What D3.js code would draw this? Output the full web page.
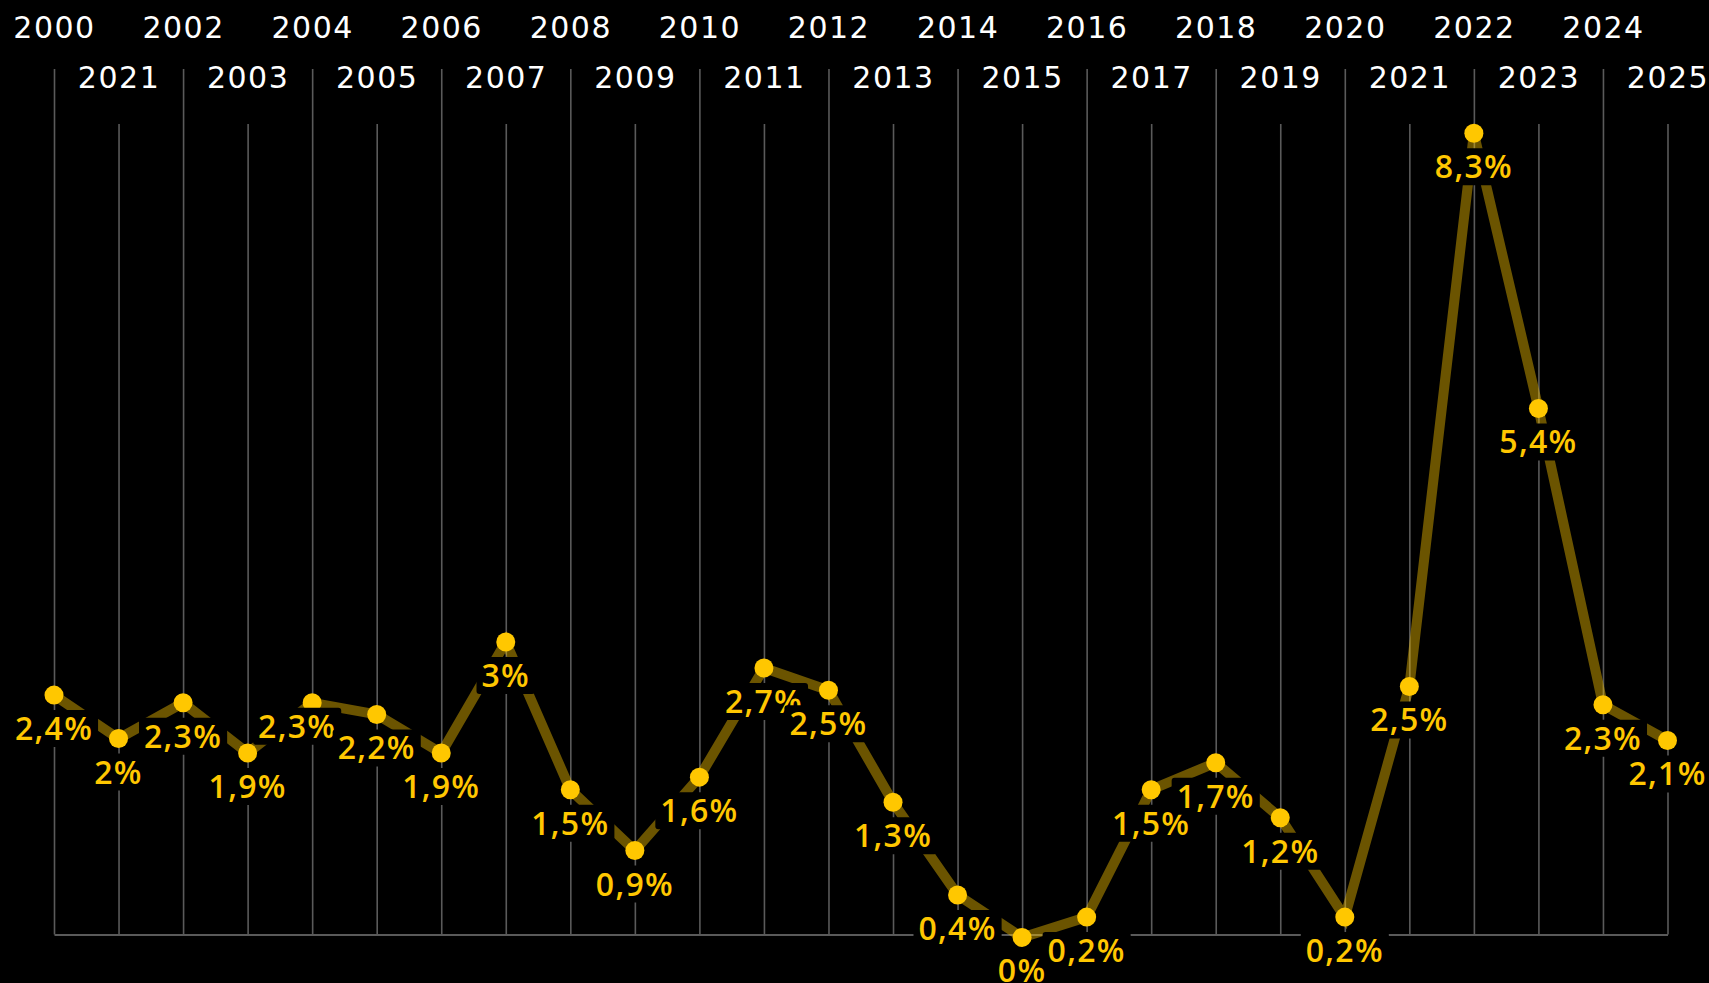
<!DOCTYPE html>
<html><head><meta charset="utf-8">
<script src="https://cdn.jsdelivr.net/npm/d3@7"></script>
<style>html,body{margin:0;padding:0;background:#000;overflow:hidden}</style>
</head><body><svg id="chart" width="1709" height="983"></svg>
<script>
const years = [2000,2001,2002,2003,2004,2005,2006,2007,2008,2009,2010,2011,2012,2013,2014,2015,2016,2017,2018,2019,2020,2021,2022,2023,2024,2025];
const tickLabels = ["2000","2021","2002","2003","2004","2005","2006","2007","2008","2009","2010","2011","2012","2013","2014","2015","2016","2017","2018","2019","2020","2021","2022","2023","2024","2025"];
const values = [2.48,2.03,2.40,1.88,2.40,2.28,1.88,3.03,1.50,0.87,1.63,2.76,2.53,1.37,0.41,-0.03,0.18,1.50,1.78,1.21,0.18,2.57,8.30,5.45,2.38,2.01];
const valueLabels = ["2,4%","2%","2,3%","1,9%","2,3%","2,2%","1,9%","3%","1,5%","0,9%","1,6%","2,7%","2,5%","1,3%","0,4%","0%","0,2%","1,5%","1,7%","1,2%","0,2%","2,5%","8,3%","5,4%","2,3%","2,1%"];

const W = 1709, H = 983;
const svg = d3.select("#chart");
svg.append("rect").attr("width", W).attr("height", H).attr("fill", "#000");

const baseY = 934.5;
const x = d3.scaleLinear().domain([d3.min(years), d3.max(years)]).range([54, 1667.5]);
const y = d3.scaleLinear().domain([0, d3.max(values)]).range([baseY, 133.3]);

const GRID = "#5a5a5a";
const YEL = "#FFC700";

const evenYears = years.filter((d, i) => i % 2 === 0);
const oddYears = years.filter((d, i) => i % 2 === 1);
const labOf = d => tickLabels[years.indexOf(d)];

function drawAxis(ticks, topY, labelBase) {
  const size = baseY - topY;
  const axis = d3.axisTop(x).tickValues(ticks).tickFormat(labOf)
    .tickSize(size).tickSizeOuter(0).tickPadding(baseY - labelBase - size);
  const g = svg.append("g").attr("transform", `translate(0,${baseY})`).call(axis);
  g.select(".domain").remove();
  g.selectAll(".tick line").attr("stroke", GRID).attr("stroke-width", 1.6);
  g.selectAll(".tick text").attr("fill", "#fff")
    .style("font-family", "'DejaVu Sans', sans-serif")
    .style("font-size", "30px").style("letter-spacing", "1.5px");
}
drawAxis(evenYears, 69, 38);
drawAxis(oddYears, 124, 88);

svg.append("g").attr("transform", `translate(0,${baseY})`)
  .call(d3.axisBottom(x).tickValues([]).tickSizeOuter(0))
  .call(g => g.select(".domain").attr("stroke", GRID).attr("stroke-width", 2.2));

const data = years.map((yr, i) => ({ yr, v: values[i], lab: valueLabels[i] }));

svg.append("path").datum(data)
  .attr("fill", "none").attr("stroke", YEL).attr("stroke-opacity", 0.42)
  .attr("stroke-width", 10).attr("stroke-linejoin", "miter")
  .attr("d", d3.line().x(d => x(d.yr)).y(d => y(d.v)));

svg.append("g").selectAll("circle").data(data).join("circle")
  .attr("cx", d => x(d.yr)).attr("cy", d => y(d.v)).attr("r", 9.5).attr("fill", YEL);

const nudge = { 2004: [-15, -10] };
const lg = svg.append("g").selectAll("g").data(data).join("g")
  .attr("transform", d => {
    const n = nudge[d.yr] || [0, 0];
    return `translate(${x(d.yr) + n[0]},${y(d.v) + 45 + n[1]})`;
  });
lg.append("rect").attr("fill", "#000").attr("rx", 3);
const texts = lg.append("text").attr("text-anchor", "middle").attr("fill", YEL)
  .style("font-family", "'Open Sans', sans-serif").style("font-weight", 600)
  .style("font-size", "32px").style("letter-spacing", "1.3px")
  .text(d => d.lab);
texts.each(function () {
  const w = this.getComputedTextLength();
  d3.select(this.previousSibling)
    .attr("x", -w / 2 - 5).attr("width", w + 10)
    .attr("y", -30).attr("height", 37);
});
</script>
</body></html>
